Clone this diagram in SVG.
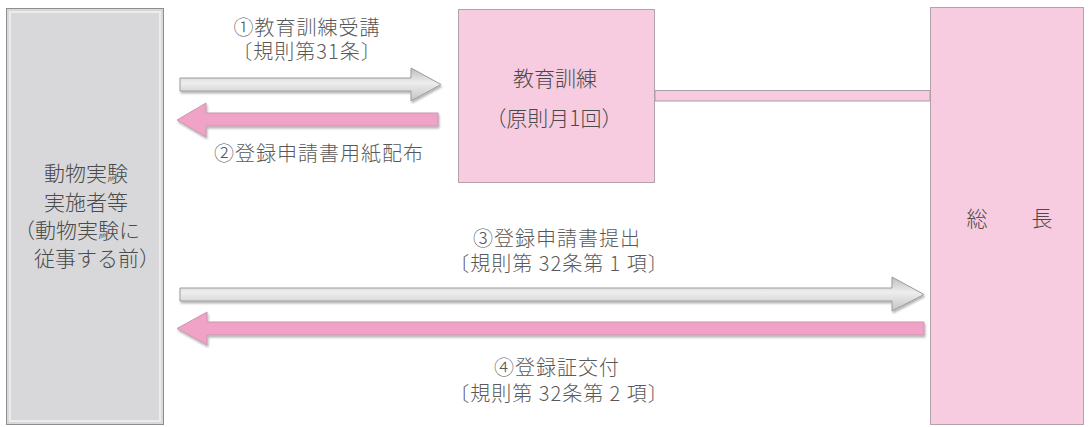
<svg xmlns="http://www.w3.org/2000/svg" width="1090" height="427" viewBox="0 0 1090 427">
<style>
  text { font-family: "Noto Sans CJK JP", "Noto Sans", sans-serif; font-weight: 300; }
  .lbl { font-size: 20px; fill: #595959; text-anchor: middle; letter-spacing: 1px; }
  .box-txt { font-size: 21px; fill: #4a4a4a; }
  .gray-box { fill: #d8d8da; stroke: #8e8e8e; stroke-width: 1; }
  .gray-inner { fill: none; stroke: #ececee; stroke-width: 2; }
  .pink-box { fill: #f7cce0; stroke: #b3a2aa; stroke-width: 1; }
  .gray-arrow { fill: url(#grayGrad); stroke: #9c9c9c; stroke-width: 1; }
  .pink-arrow { fill: #f0a3c7; stroke: #c797ad; stroke-width: 1; }
  .bar { fill: #f7cce0; stroke: #a8a0a4; stroke-width: 1; }
</style>
<defs>
  <linearGradient id="grayGrad" x1="0" y1="0" x2="0" y2="1">
    <stop offset="0" stop-color="#bcbcbc"/>
    <stop offset="0.45" stop-color="#eeeeee"/>
    <stop offset="1" stop-color="#c2c2c2"/>
  </linearGradient>
  <filter id="shadow" x="-5%" y="-30%" width="110%" height="160%">
    <feGaussianBlur in="SourceAlpha" stdDeviation="1.2"/>
    <feOffset dx="1" dy="2" result="b"/>
    <feComponentTransfer><feFuncA type="linear" slope="0.3"/></feComponentTransfer>
    <feMerge><feMergeNode/><feMergeNode in="SourceGraphic"/></feMerge>
  </filter>
</defs>
<rect width="1090" height="427" fill="#ffffff"/>

<g id="node-experimenters">
  <rect class="gray-box" x="6.5" y="8.5" width="157" height="416"/>
  <rect class="gray-inner" x="10" y="12" width="150" height="409"/>
  <text class="box-txt" x="86" y="181" text-anchor="middle">動物実験</text>
  <text class="box-txt" x="86" y="210" text-anchor="middle">実施者等</text>
  <text class="box-txt" x="14" y="238">（動物実験に</text>
  <text class="box-txt" x="34" y="266">従事する前）</text>
</g>

<g id="node-training">
  <rect class="pink-box" x="458.5" y="9.5" width="196" height="173"/>
  <text class="box-txt" x="555" y="86" text-anchor="middle" font-size="20">教育訓練</text>
  <text class="box-txt" x="554" y="126" text-anchor="middle" font-size="20">（原則月1回）</text>
</g>

<g id="node-president">
  <rect class="pink-box" x="930.5" y="7.5" width="153" height="417"/>
  <text class="box-txt" y="226" font-size="24" text-anchor="middle"><tspan x="977">総</tspan><tspan x="1042">長</tspan></text>
</g>

<g id="connectors">
  <rect class="bar" x="655" y="90.5" width="275" height="10.5"/>
  <polygon class="gray-arrow" filter="url(#shadow)" points="180,78 411,78 411,68 441,84.5 411,101 411,91 180,91"/>
  <polygon class="pink-arrow" filter="url(#shadow)" points="438,113 206,113 206,103 177,120 206,137 206,126 438,126"/>
  <polygon class="gray-arrow" filter="url(#shadow)" points="180,288 892,288 892,277 924,294.5 892,311 892,301 180,301"/>
  <polygon class="pink-arrow" filter="url(#shadow)" points="924,322 207,322 207,312 177,328.5 207,345 207,335 924,335"/>

  <text class="lbl" x="307" y="35">①教育訓練受講</text>
  <text class="lbl" x="307" y="59">〔規則第31条〕</text>
  <text class="lbl" x="319" y="161">②登録申請書用紙配布</text>
  <text class="lbl" x="557" y="246">③登録申請書提出</text>
  <text class="lbl" x="559" y="271">〔規則第 32条第 1 項〕</text>
  <text class="lbl" x="557" y="375">④登録証交付</text>
  <text class="lbl" x="559" y="401">〔規則第 32条第 2 項〕</text>
</g>
</svg>
